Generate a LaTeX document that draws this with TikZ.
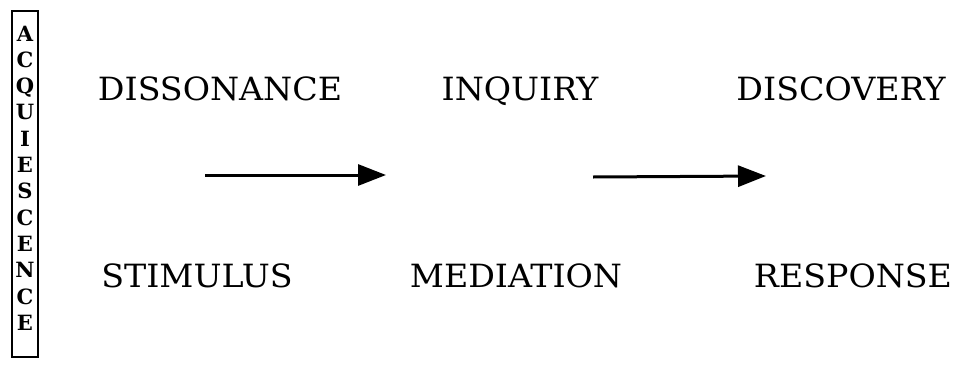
\documentclass[tikz,border=0pt]{standalone}
\usepackage{fontspec}
\setmainfont{DejaVu Serif}
\usetikzlibrary{arrows.meta}
\begin{document}
\begin{tikzpicture}[x=1pt,y=-1pt,
  word/.style={font=\fontsize{32}{32}\selectfont, anchor=base, inner sep=0pt, xscale=1.04},
  vletter/.style={font=\fontsize{21}{21}\bfseries\selectfont, anchor=base, inner sep=0pt},
  bigarrow/.style={line width=3pt, -{Triangle[length=28pt,width=21pt]}}]
\useasboundingbox (0,0) rectangle (972,370);
\draw[line width=1.8pt] (12,11) rectangle (38,357);
\foreach \l [count=\i] in {A,C,Q,U,I,E,S,C,E,N,C,E}{
  \node[vletter] (v\i) at (25,{41+(\i-1)*26.3}) {\l};
}
\node[word] (dis) at (220,100) {DISSONANCE};
\node[word] (inq) at (520,100) {INQUIRY};
\node[word] (dsc) at (841,100) {DISCOVERY};
\node[word] (sti) at (197,287) {STIMULUS};
\node[word] (med) at (516,287) {MEDIATION};
\node[word] (res) at (853,287) {RESPONSE};
\coordinate (a1s) at (205,175);
\coordinate (a1e) at (386,175);
\coordinate (a2s) at (593,177);
\coordinate (a2e) at (766,176);
\draw[bigarrow] (a1s) -- (a1e);
\draw[bigarrow] (a2s) -- (a2e);
\end{tikzpicture}
\end{document}
